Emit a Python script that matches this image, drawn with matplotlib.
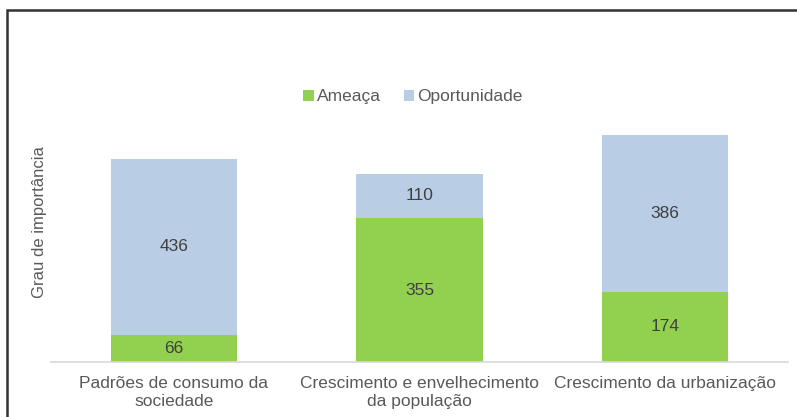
import numpy as np
import matplotlib
matplotlib.use('Agg')
from matplotlib import pyplot as plt
from matplotlib.patches import Rectangle

categories = ['Padrões de consumo da\nsociedade',
              'Crescimento e envelhecimento\nda população',
              'Crescimento da urbanização']
ameaca = [66, 355, 174]
oportunidade = [436, 110, 386]

green = '#92D050'
blue = '#B9CDE5'
plt.rcParams['font.family'] = ['Liberation Sans', 'DejaVu Sans']

fig = plt.figure(figsize=(7.97, 4.17), dpi=100)
ax = fig.add_axes([51 / 797, 1 - 362 / 417, 737 / 797, 243 / 417])

x = np.arange(len(categories))
b1 = ax.bar(x, ameaca, width=0.515, color=green, label='Ameaça')
b2 = ax.bar(x, oportunidade, width=0.515, bottom=ameaca, color=blue, label='Oportunidade')
for bars in (b1, b2):
    ax.bar_label(bars, label_type='center', fontsize=12.5, color='#404040')

ax.set_xlim(-0.5, 2.5)
ax.set_ylim(0, 600)
ax.set_xticks(x, categories, fontsize=12.5, color='#595959', linespacing=1.25)
ax.tick_params(axis='x', length=0, pad=10)
ax.set_yticks([])
for s in ('top', 'right', 'left'):
    ax.spines[s].set_visible(False)
ax.spines['bottom'].set_color('#d9d9d9')
ax.spines['bottom'].set_linewidth(1.2)

fig.text(40 / 797, 1 - 222 / 417, 'Grau de importância', rotation=90,
         ha='center', va='center', fontsize=12, color='#595959')

fig.legend(loc='center', bbox_to_anchor=(413 / 797, 1 - 97 / 417), ncol=2,
           frameon=False, fontsize=12.5, handlelength=0.6, handleheight=0.6,
           handletextpad=0.2, columnspacing=1.3, labelcolor='#595959')

# frame: left and top edges visible, rest runs off the image
fig.patches.append(Rectangle((6.5 / 797, -0.5), 2, 1 - 10.5 / 417 + 0.5,
                             transform=fig.transFigure, fill=False,
                             edgecolor='#333333', linewidth=1.8))

fig.savefig('out.png', dpi=100)
